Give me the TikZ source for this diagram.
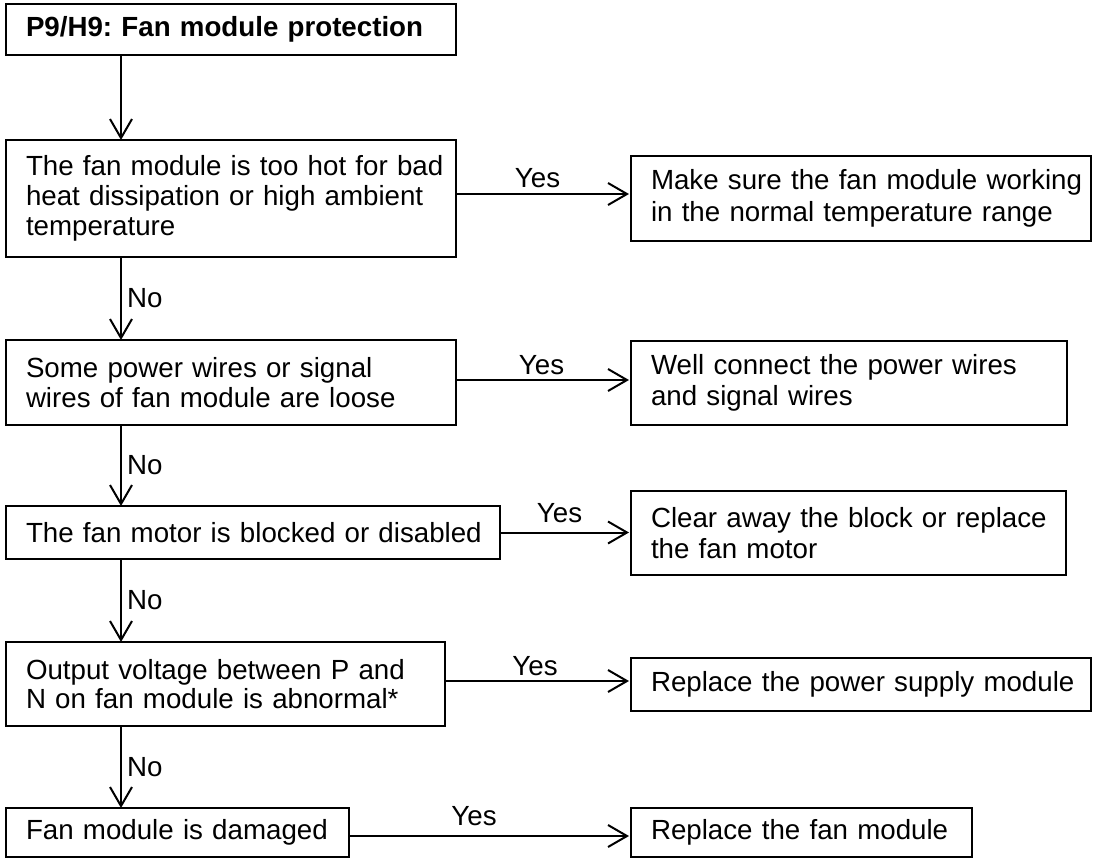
\documentclass[tikz,border=0pt]{standalone}
\usepackage{fontspec}
\setmainfont{Liberation Sans}
\usetikzlibrary{arrows.meta}
\newcommand{\txtfont}[1]{\fontsize{27.7pt}{#1}\selectfont\frenchspacing}
\begin{document}
\frenchspacing
\begin{tikzpicture}[x=1pt,y=-1pt,
  box/.style={draw=black, line width=1.2pt, rectangle, anchor=north west,
    inner xsep=20pt, inner ysep=0pt, outer sep=0pt, align=left,
    font=\txtfont{31.5pt}},
  arr/.style={line width=2pt, -{Straight Barb[length=19pt,width=22pt]}},
  harr/.style={arr, shorten >=2pt},
  lab/.style={inner sep=0pt, font=\txtfont{31.5pt}}]
\useasboundingbox (0,0) rectangle (1093,860);

% left column
\node[box, minimum width=450pt, minimum height=51pt, text width=410pt] (b1) at (6,4)
  {\mbox{\bfseries P9/H9: Fan module protection}};
\node[box, minimum width=450pt, minimum height=117pt, text width=410pt, font=\txtfont{30pt}] (b2) at (6,140)
  {\mbox{The fan module is too hot for bad}\\\mbox{heat dissipation or high ambient}\\\mbox{temperature}};
\node[box, minimum width=450pt, minimum height=85pt, text width=410pt, font=\txtfont{30pt}] (b3) at (6,340)
  {\mbox{Some power wires or signal}\\\mbox{wires of fan module are loose}};
\node[box, minimum width=494pt, minimum height=53pt, text width=454pt] (b4) at (6,506)
  {\mbox{The fan motor is blocked or disabled}};
\node[box, minimum width=439pt, minimum height=84pt, text width=399pt, font=\txtfont{29pt}] (b5) at (6,642)
  {\mbox{Output voltage between P and}\\\mbox{N on fan module is abnormal*}};
\node[box, minimum width=343pt, minimum height=49pt, text width=303pt] (b6) at (6,808)
  {\mbox{Fan module is damaged}};

% right column
\node[box, minimum width=460pt, minimum height=85pt, text width=420pt] (r1) at (631,156)
  {\mbox{Make sure the fan module working}\\\mbox{in the normal temperature range}};
\node[box, minimum width=436pt, minimum height=84pt, text width=396pt] (r2) at (631,341)
  {\mbox{Well connect the power wires}\\\mbox{and signal wires}};
\node[box, minimum width=435pt, minimum height=84pt, text width=395pt] (r3) at (631,491)
  {\mbox{Clear away the block or replace}\\\mbox{the fan motor}};
\node[box, minimum width=460pt, minimum height=53pt, text width=420pt] (r4) at (631,658)
  {\mbox{Replace the power supply module}};
\node[box, minimum width=341pt, minimum height=49pt, text width=301pt] (r5) at (631,808)
  {\mbox{Replace the fan module}};

% vertical connectors
\coordinate (ax) at (121,0);
\draw[arr] (b1.south -| ax) -- (b2.north -| ax);
\draw[arr] (b2.south -| ax) -- node[lab, midway, right=5pt] {No} (b3.north -| ax);
\draw[arr] (b3.south -| ax) -- node[lab, midway, right=5pt] {No} (b4.north -| ax);
\draw[arr] (b4.south -| ax) -- node[lab, midway, right=5pt] {No} (b5.north -| ax);
\draw[arr] (b5.south -| ax) -- node[lab, midway, right=5pt] {No} (b6.north -| ax);

% horizontal connectors
\draw[harr] ([yshift=4.5pt]b2.east) -- node[lab, midway, above=5pt, xshift=-6pt] {Yes} ([yshift=4.5pt]b2.east -| r1.west);
\draw[harr] ([yshift=2.5pt]b3.east) -- node[lab, midway, above=4pt, xshift=-2pt] {Yes} ([yshift=2.5pt]b3.east -| r2.west);
\draw[harr] (b4.east) -- node[lab, midway, above=9pt, xshift=-6pt] {Yes} (b4.east -| r3.west);
\draw[harr] ([yshift=3pt]b5.east) -- node[lab, midway, above=4pt, xshift=-3pt] {Yes} ([yshift=3pt]b5.east -| r4.west);
\draw[harr] ([yshift=-3.5pt]b6.east) -- node[lab, midway, above=9pt, xshift=-16pt] {Yes} ([yshift=-3.5pt]b6.east -| r5.west);
\end{tikzpicture}
\end{document}
